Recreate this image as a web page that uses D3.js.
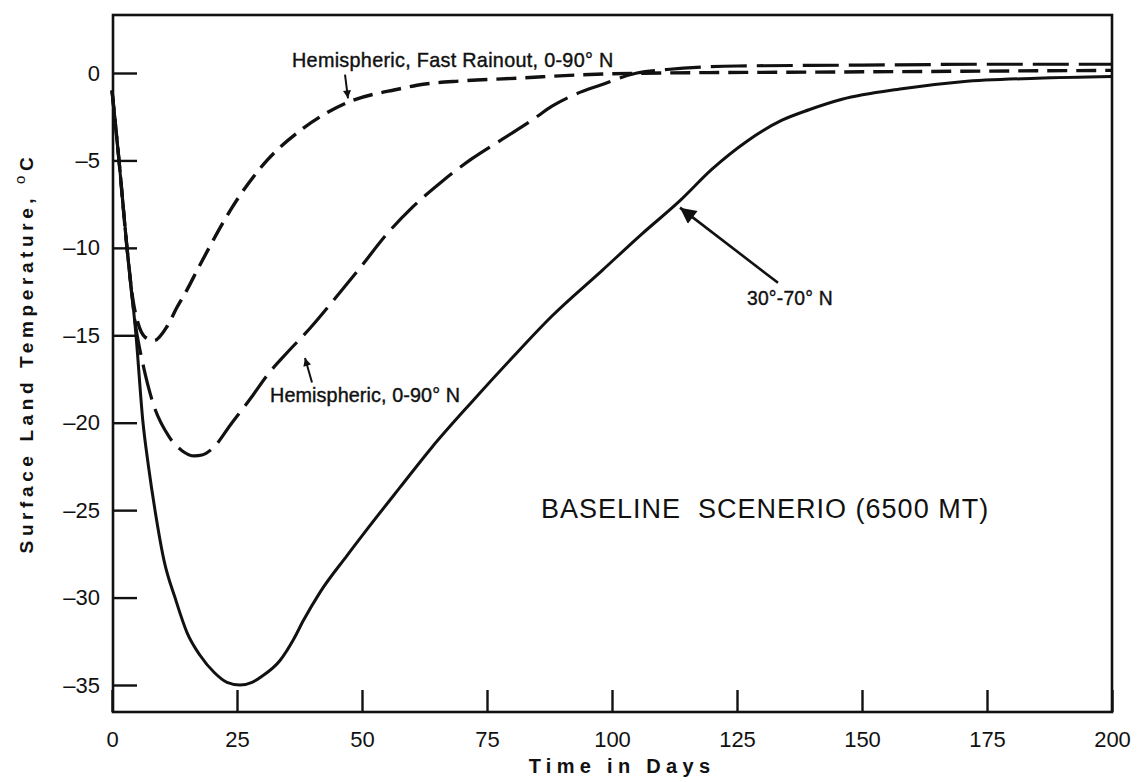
<!DOCTYPE html>
<html>
<head>
<meta charset="utf-8">
<script src="https://cdn.jsdelivr.net/npm/d3@7"></script>
<style>
  body { margin: 0; background: #fff; }
  svg { display: block; }
  text { font-family: "Liberation Sans", Arial, Helvetica, sans-serif; fill: #111; }
</style>
</head>
<body>
<svg width="1143" height="782"></svg>
<script>

// readings: [day, surface land temp in C]
var midLatitude = [
  [0, -1], [1.4, -5], [3, -10], [4.8, -15], [6.2, -20], [7.3, -22.5], [8.6, -25],
  [10.5, -28], [12.6, -30], [15, -32], [17.6, -33.3], [20.5, -34.3], [23, -34.85],
  [25.6, -35], [28, -34.85], [30, -34.5], [33.6, -33.6], [36.3, -32.4], [38.3, -31.3],
  [41.6, -29.7], [47, -27.6], [51, -26.1], [57.6, -23.7], [64, -21.4], [72, -18.8],
  [80, -16.3], [88, -13.9], [98, -11.3], [106, -9.2], [113.6, -7.3], [120, -5.5],
  [127, -3.9], [134, -2.7], [139.4, -2.1], [146, -1.5], [158, -0.9], [170, -0.5],
  [185, -0.3], [200, -0.2]
];

var hemispheric = [
  [0, -1], [1.4, -5], [3, -10], [4.8, -14.6], [6, -16.4], [8, -18.7], [11.4, -20.8],
  [14, -21.6], [16.5, -21.9], [18, -21.85], [20, -21.5], [24, -20], [28, -18.5],
  [31, -17.3], [35, -16], [39.6, -14.6], [44.6, -12.9], [50, -11], [55, -9.2],
  [60, -7.7], [66, -6.2], [72, -4.9], [78, -3.8], [84, -2.7], [88, -1.9],
  [92, -1.3], [97.6, -0.7], [105, 0], [111, 0.2], [125, 0.4], [150, 0.45],
  [175, 0.5], [200, 0.5]
];

var fastRainout = [
  [0, -1], [1.4, -5], [3, -10], [4.2, -13], [5.2, -14.3], [6.6, -15.1], [8.4, -15.3],
  [11, -14.5], [13, -13.4], [15, -12.4], [17, -11.3], [19.6, -9.9], [24, -7.7],
  [31, -5], [37.6, -3.3], [47, -1.7], [57.6, -0.9], [61, -0.7], [70, -0.45],
  [81, -0.3], [94, -0.1], [110, 0], [140, 0.05], [170, 0.1], [200, 0.15]
];

var xTicks = [0, 25, 50, 75, 100, 125, 150, 175, 200];
var yTicks = [0, -5, -10, -15, -20, -25, -30, -35];

var svg = d3.select("svg");

var plotLeft = 113, plotRight = 1112, plotTop = 15, plotBottom = 712;

var x = d3.scaleLinear().domain([0, 200]).range([plotLeft - 1, plotRight]);
var y = d3.scaleLinear().domain([-35, 0]).range([685, 73]);

// frame
svg.append("rect")
  .attr("x", plotLeft).attr("y", plotTop)
  .attr("width", plotRight - plotLeft).attr("height", plotBottom - plotTop)
  .attr("fill", "none").attr("stroke", "#111").attr("stroke-width", 2.6);

// y axis, ticks pointing inward
var yAxis = svg.append("g")
  .attr("transform", "translate(" + plotLeft + ",0)")
  .call(d3.axisLeft(y).tickValues(yTicks).tickSize(-24).tickPadding(13)
    .tickFormat(function(d) { return d < 0 ? "\u2013" + Math.abs(d) : String(d); }));
yAxis.select(".domain").remove();
yAxis.selectAll("line").attr("stroke", "#111").attr("stroke-width", 2.4);
yAxis.selectAll("text")
  .style("font-family", "Liberation Sans, Arial, sans-serif")
  .style("font-size", "22px").attr("fill", "#111");

// x axis
var xAxis = svg.append("g")
  .attr("transform", "translate(0," + plotBottom + ")")
  .call(d3.axisBottom(x).tickValues(xTicks).tickSize(-22).tickPadding(19));
xAxis.select(".domain").remove();
xAxis.selectAll("line").attr("stroke", "#111").attr("stroke-width", 2.4);
xAxis.selectAll("text")
  .style("font-family", "Liberation Sans, Arial, sans-serif")
  .style("font-size", "22px").attr("fill", "#111");

// axis titles
svg.append("text")
  .attr("x", 622).attr("y", 773)
  .attr("text-anchor", "middle")
  .style("font-size", "20px").style("font-weight", "bold")
  .style("letter-spacing", "5.3px")
  .text("Time in Days");

var yt = svg.append("text")
  .attr("transform", "translate(33,353) rotate(-90)")
  .attr("text-anchor", "middle")
  .style("font-size", "19px").style("font-weight", "bold")
  .style("letter-spacing", "4.6px");
yt.append("tspan").text("Surface Land Temperature, ");
yt.append("tspan").attr("dy", -8).style("font-size", "15px").style("font-weight", "normal").text("o");
yt.append("tspan").attr("dy", 8).text("C");

// curves
var line = d3.line()
  .x(function(d) { return x(d[0]); })
  .y(function(d) { return y(d[1]); })
  .curve(d3.curveMonotoneX);

svg.append("path").datum(midLatitude)
  .attr("d", line).attr("fill", "none")
  .attr("stroke", "#111").attr("stroke-width", 3);

svg.append("path").datum(hemispheric)
  .attr("d", line).attr("fill", "none")
  .attr("stroke", "#111").attr("stroke-width", 3.2)
  .attr("stroke-dasharray", "36,10");

svg.append("path").datum(fastRainout)
  .attr("d", line).attr("fill", "none")
  .attr("stroke", "#111").attr("stroke-width", 3.4)
  .attr("stroke-dasharray", "20,9");

// arrow heads
var defs = svg.append("defs");
defs.append("marker").attr("id", "small")
  .attr("markerUnits", "userSpaceOnUse")
  .attr("viewBox", "0 0 10 10").attr("refX", 10).attr("refY", 5)
  .attr("markerWidth", 11).attr("markerHeight", 8).attr("orient", "auto")
  .append("path").attr("d", "M0,0L10,5L0,10Z").attr("fill", "#111");
defs.append("marker").attr("id", "big")
  .attr("markerUnits", "userSpaceOnUse")
  .attr("viewBox", "0 0 10 10").attr("refX", 10).attr("refY", 5)
  .attr("markerWidth", 24).attr("markerHeight", 16).attr("orient", "auto")
  .append("path").attr("d", "M0,0L10,5L0,10Z").attr("fill", "#111");

function arrow(from, to, head, w) {
  svg.append("line")
    .attr("x1", x(from[0])).attr("y1", y(from[1]))
    .attr("x2", x(to[0])).attr("y2", y(to[1]))
    .attr("stroke", "#111").attr("stroke-width", w)
    .attr("marker-end", "url(#" + head + ")");
}

arrow([46.6, -0.1], [47.2, -1.45], "small", 2);
arrow([40, -17.7], [38.6, -16.3], "small", 2);
arrow([133.2, -12.0], [113.6, -7.7], "big", 2.6);

// labels
function label(at, txt, size, spacing) {
  return svg.append("text")
    .attr("x", x(at[0])).attr("y", y(at[1]))
    .style("font-size", size + "px")
    .style("letter-spacing", spacing + "px")
    .attr("stroke", "#111").attr("stroke-width", 0.4)
    .text(txt);
}

label([36, 0.34], "Hemispheric, Fast Rainout, 0-90\u00b0 N", 19.8, 0.3);
label([31.6, -18.8], "Hemispheric, 0-90\u00b0 N", 19.8, 0.1);
label([127, -13.27], "30\u00b0-70\u00b0 N", 19.3, 0.2);

svg.append("text")
  .attr("x", x(85.8)).attr("y", y(-25.45))
  .style("font-size", "27px").style("letter-spacing", "1px")
  .style("white-space", "pre")
  .attr("fill", "#222")
  .text("BASELINE  SCENERIO (6500 MT)");

</script>
</body>
</html>
